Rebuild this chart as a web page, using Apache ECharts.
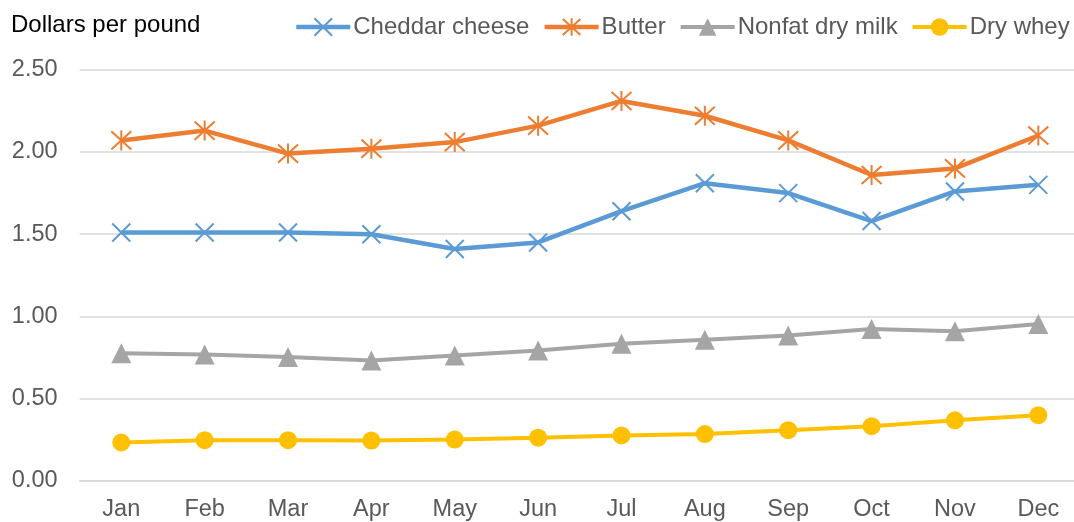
<!DOCTYPE html>
<html>
<head>
<meta charset="utf-8">
<script src="https://cdn.jsdelivr.net/npm/echarts@6/dist/echarts.min.js"></script>
<style>html,body{margin:0;padding:0;background:#fff;overflow:hidden;width:1074px;height:522px;}#c{width:1080px;height:522px;}</style>
</head>
<body>
<div id="c"></div>
<script>
const months = ['Jan','Feb','Mar','Apr','May','Jun','Jul','Aug','Sep','Oct','Nov','Dec'];
const cheddar = [1.51,1.51,1.51,1.50,1.41,1.45,1.64,1.81,1.75,1.58,1.76,1.80];
const butter = [2.07,2.13,1.99,2.02,2.06,2.16,2.31,2.22,2.07,1.86,1.90,2.10];
const nonfat = [0.777,0.769,0.753,0.733,0.763,0.793,0.834,0.858,0.884,0.924,0.910,0.955];
const whey = [0.234,0.248,0.248,0.246,0.252,0.263,0.277,0.285,0.309,0.333,0.369,0.400];
const yTicks = { min: 0, max: 2.5, interval: 0.5 };
const fontFam = '"Liberation Sans", Arial, sans-serif';

const X_PATH = 'path://M0,0L10,10M10,0L0,10';
const STAR_PATH = 'path://M0,0L10,10M10,0L0,10M5,-0.5L5,10.5';

const styles = [
  { name: 'Cheddar cheese', data: cheddar, color: '#5B9BD5', symbol: X_PATH, size: 18, width: 4.5, border: 2 },
  { name: 'Butter', data: butter, color: '#ED7D31', symbol: STAR_PATH, size: 20, width: 4.5, border: 2 },
  { name: 'Nonfat dry milk', data: nonfat, color: '#A5A5A5', symbol: 'triangle', size: 20, width: 4, border: 0 },
  { name: 'Dry whey', data: whey, color: '#FFC000', symbol: 'circle', size: 18, width: 4, border: 0 }
];

const chart = echarts.init(document.getElementById('c'));
chart.setOption({
  animation: false,
  title: {
    text: 'Dollars per pound', left: 6, top: 8,
    textStyle: { fontFamily: fontFam, fontSize: 24, fontWeight: 'normal', color: '#000' }
  },
  legend: {
    left: 294, top: 15, width: 786, padding: 0, itemWidth: 54, itemHeight: 22, itemGap: 13,
    textStyle: { fontFamily: fontFam, fontSize: 24, color: '#595959', padding: [0,0,0,-2] },
    data: styles.map(s => ({
      name: s.name,
      itemStyle: { color: s.color, borderColor: s.color, borderWidth: s.border },
      lineStyle: { color: s.color, width: s.width }
    }))
  },
  grid: { left: 79.6, right: 0, top: 69.7, bottom: 39.3, containLabel: false },
  xAxis: {
    type: 'category', data: months, boundaryGap: true,
    axisLine: { show: true, lineStyle: { color: '#d9d9d9', width: 1.5 } },
    axisTick: { show: false },
    axisLabel: { fontFamily: fontFam, fontSize: 23.5, color: '#595959', margin: 17 }
  },
  yAxis: {
    type: 'value', min: yTicks.min, max: yTicks.max, interval: yTicks.interval,
    axisLine: { show: false }, axisTick: { show: false },
    splitLine: { lineStyle: { color: '#d9d9d9', width: 1.5 } },
    axisLabel: { fontFamily: fontFam, fontSize: 23.5, color: '#595959', margin: 22,
      formatter: v => v.toFixed(2) }
  },
  series: styles.map(s => ({
    name: s.name, type: 'line', data: s.data,
    symbol: s.symbol, symbolSize: s.size,
    lineStyle: { color: s.color, width: s.width },
    itemStyle: { color: s.color, borderColor: s.color, borderWidth: s.border },
    emphasis: { disabled: true },
    animation: false
  }))
});
</script>
</body>
</html>
